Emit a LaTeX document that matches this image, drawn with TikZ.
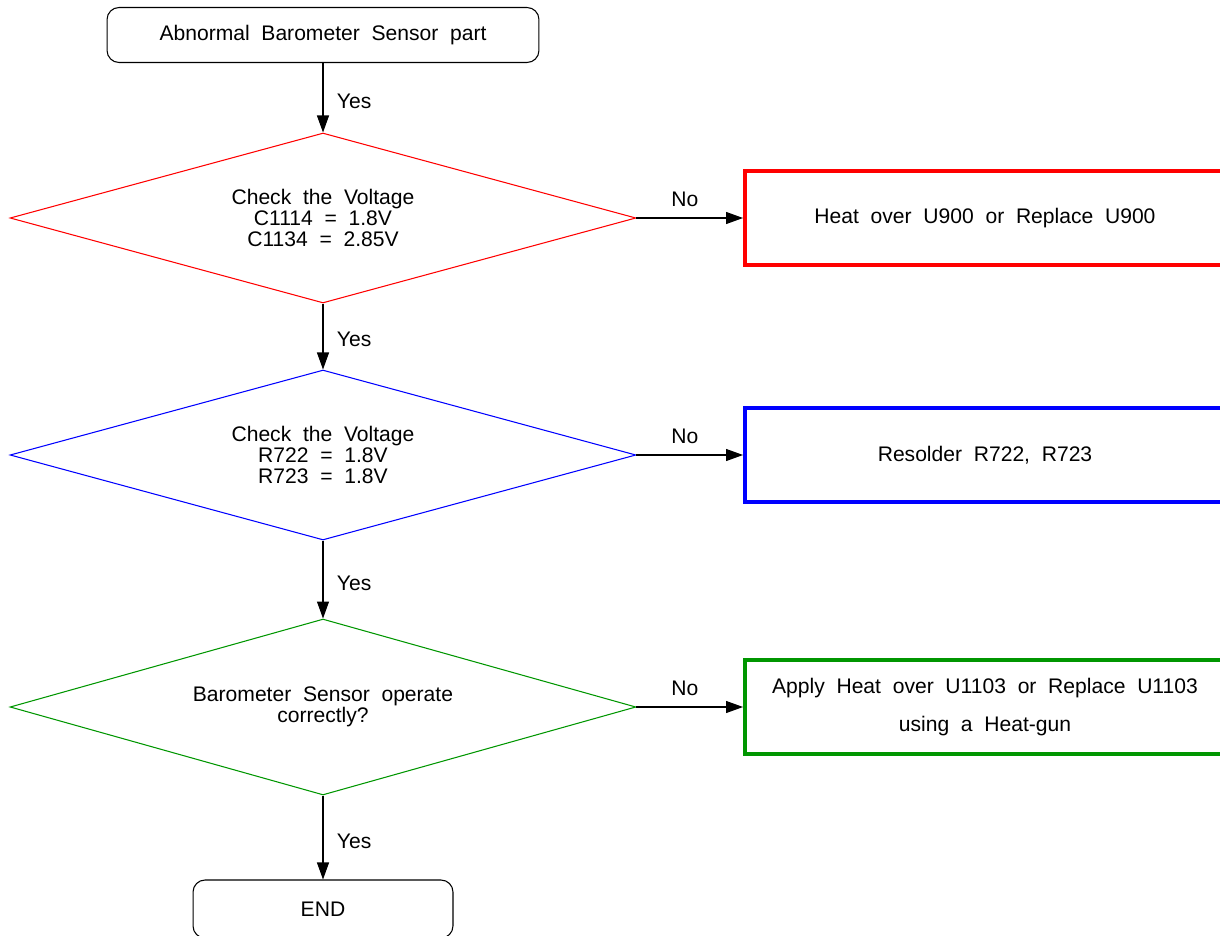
\documentclass[tikz,border=0pt]{standalone}
\usepackage{fontspec}
\setmainfont[WordSpace=2]{Liberation Sans}
\usetikzlibrary{shapes.geometric,arrows.meta}
\definecolor{chartgreen}{RGB}{0,150,0}

\begin{document}
\begin{tikzpicture}[x=0.02cm, y=-0.02cm, line width=0.6pt,
        font=\fontsize{12}{12}\selectfont,
        >={Triangle[length=0.34cm,width=0.24cm]},
        endbox/.style={draw, rectangle, rounded corners=0.24cm, minimum height=1.1cm},
        check/.style={draw, diamond, aspect=3.7, minimum width=12.52cm, minimum height=3.4cm, align=center, inner sep=1pt},
        fixbox/.style={draw, rectangle, line width=2.3pt, minimum width=9.6cm, minimum height=1.88cm, align=center}]
    \useasboundingbox (0,0) rectangle (1220,936);

    % Start and end of the chart.
    \node[endbox, minimum width=8.64cm] (start) at (323,35) {Abnormal Barometer Sensor part};
    \node[endbox, minimum width=5.2cm, minimum height=1.16cm] (end) at (323,909) {END};

    % The three checks, one under the other.
    \node[check, draw=red] (chk1) at (323,218) {Check the Voltage\\C1114 = 1.8V\\C1134 = 2.85V};
    \node[check, draw=blue] (chk2) at (323,455) {Check the Voltage\\R722 = 1.8V\\R723 = 1.8V};
    \node[check, draw=chartgreen, minimum height=3.52cm] (chk3) at (323,707) {Barometer Sensor operate\\correctly?};

    % What to do when a check fails.
    % The boxes run past the right edge of the page.
    \node[fixbox, draw=red] (fix1) at (985,218) {Heat over U900 or Replace U900};
    \node[fixbox, draw=blue] (fix2) at (985,455) {Resolder R722, R723};
    \node[fixbox, draw=chartgreen] (fix3) at (985,707) {Apply Heat over U1103 or Replace U1103\\[10pt]using a Heat-gun};

    % Arrows down the middle.
    \foreach \a/\b in {start/chk1, chk1/chk2, chk2/chk3, chk3/end} {
        \draw[->] (\a) -- (\b) node[pos=0.55, right=0.15cm]{Yes};
    }

    % Arrows to the right.
    \foreach \a/\b in {chk1/fix1, chk2/fix2, chk3/fix3} {
        \draw[->] (\a) -- (\b) node[midway, above=0.1cm, xshift=-0.1cm]{No};
    }
\end{tikzpicture}
\end{document}
